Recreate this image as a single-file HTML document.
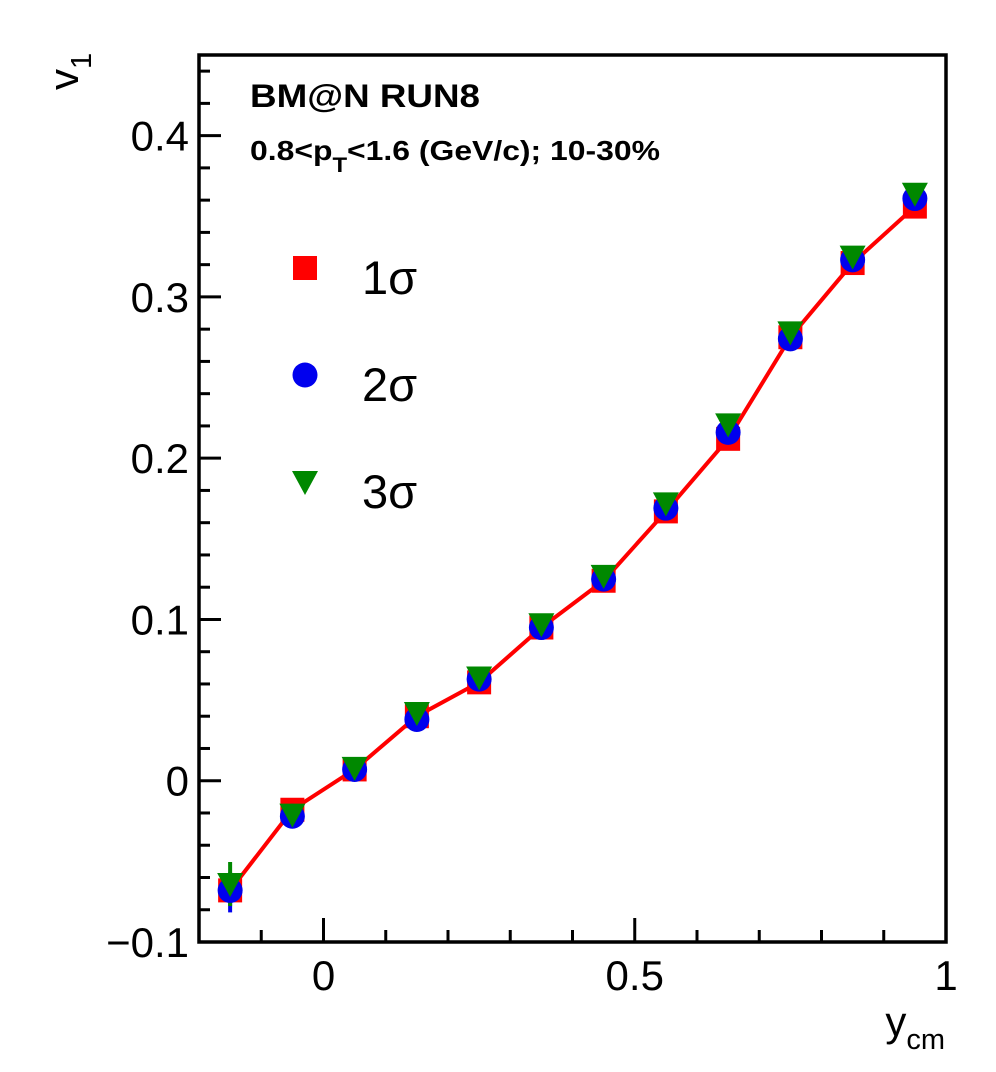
<!DOCTYPE html>
<html><head><meta charset="utf-8"><style>
body{margin:0;background:#fff}
svg{display:block;font-family:"Liberation Sans",sans-serif}
</style></head><body>
<svg id="c" width="996" height="1072"></svg>
<script>
const xs=[-0.15,-0.05,0.05,0.15,0.25,0.35,0.45,0.55,0.65,0.75,0.85,0.95];
const s1=[-0.068,-0.018,0.007,0.040,0.061,0.095,0.124,0.167,0.212,0.275,0.321,0.356];
const s2=[-0.068,-0.022,0.007,0.038,0.063,0.095,0.125,0.169,0.216,0.274,0.323,0.361];
const s3=[-0.064,-0.021,0.008,0.042,0.064,0.097,0.127,0.172,0.221,0.278,0.325,0.364];
const xTicks=["0","0.5","1"];const xTickVals=[0,0.5,1];
const yTicks=["\u22120.1","0","0.1","0.2","0.3","0.4"];const yTickVals=[-0.1,0,0.1,0.2,0.3,0.4];
const L=199,R=946,T=55,B=942,X0=-0.2,X1=1,Y0=-0.1,Y1=0.45;
const X=v=>L+(v-X0)/(X1-X0)*(R-L), Y=v=>B-(v-Y0)/(Y1-Y0)*(B-T);
const svg=document.getElementById('c');const NS='http://www.w3.org/2000/svg';
function mk(t,a,txt){const e=document.createElementNS(NS,t);for(const k in a)e.setAttribute(k,a[k]);if(txt!==undefined)e.textContent=txt;svg.appendChild(e);return e;}
let e;
for(let i=0;i<=12;i++){const v=X0+i*0.1;const maj=Math.abs(v*2-Math.round(v*2))<1e-6;
e=mk('line',{x1:X(v),x2:X(v),y1:B,y2:B-(maj?24:12),stroke:'#000','stroke-width':3});
}
for(let i=0;i<=27;i++){const v=Y0+i*0.02;const maj=i%5===0;
e=mk('line',{x1:L,x2:L+(maj?22:11),y1:Y(v),y2:Y(v),stroke:'#000','stroke-width':3});
}
e=mk('rect',{x:L,y:T,width:R-L,height:B-T,fill:'none',stroke:'#000','stroke-width':3.5});

xTickVals.forEach((v,i)=>{e=mk('text',{x:X(v),y:990,'font-size':42,'text-anchor':'middle'},xTicks[i]);
});
yTickVals.forEach((v,i)=>{e=mk('text',{x:189,y:Y(v)+15,'font-size':42,'text-anchor':'end'},yTicks[i]);
});
e=mk('text',{x:945,y:1036,'font-size':42,'text-anchor':'end'});e.innerHTML='y<tspan font-size="29" dy="13">cm</tspan>';

e=mk('text',{x:0,y:0,'font-size':42,transform:'translate(78,90) rotate(-90)'});e.innerHTML='v<tspan font-size="29" dy="13">1</tspan>';

e=mk('text',{x:250,y:107,'font-size':32,'font-weight':'bold',textLength:230,lengthAdjust:'spacingAndGlyphs'},'BM@N RUN8');

e=mk('text',{x:250,y:160,'font-size':28,'font-weight':'bold',textLength:410,lengthAdjust:'spacingAndGlyphs'});e.innerHTML='0.8&lt;p<tspan dy="12" font-size="21">T</tspan><tspan dy="-12">&lt;1.6 (GeV/c); 10-30%</tspan>';

e=mk('line',{x1:X(xs[0]),x2:X(xs[0]),y1:Y(s2[0])-18,y2:Y(s2[0])+22,stroke:'#0000ee','stroke-width':4});

e=mk('line',{x1:X(xs[0]),x2:X(xs[0]),y1:Y(s3[0])-22,y2:Y(s3[0])+22,stroke:'#008800','stroke-width':4});

e=mk('polyline',{points:xs.map((x,i)=>X(x)+','+Y(s1[i])).join(' '),fill:'none',stroke:'#ff0000','stroke-width':4});

function sq(cx,cy){return mk('rect',{x:cx-12,y:cy-12,width:24,height:24,fill:'#ff0000'});}
function ci(cx,cy){return mk('circle',{cx:cx,cy:cy,r:12.5,fill:'#0000ee'});}
function tri(cx,cy){return mk('polygon',{points:`${cx-13},${cy-11} ${cx+13},${cy-11} ${cx},${cy+13}`,fill:'#008800'});}
xs.forEach((x,i)=>{e=sq(X(x),Y(s1[i]));});
xs.forEach((x,i)=>{e=ci(X(x),Y(s2[i]));});
xs.forEach((x,i)=>{e=tri(X(x),Y(s3[i]));});
e=sq(305,268);
e=ci(305,375);
e=tri(305,482);
['1\u03c3','2\u03c3','3\u03c3'].forEach((t,i)=>{e=mk('text',{x:362,y:294+i*107,'font-size':47},t);
});
</script>
</body></html>
